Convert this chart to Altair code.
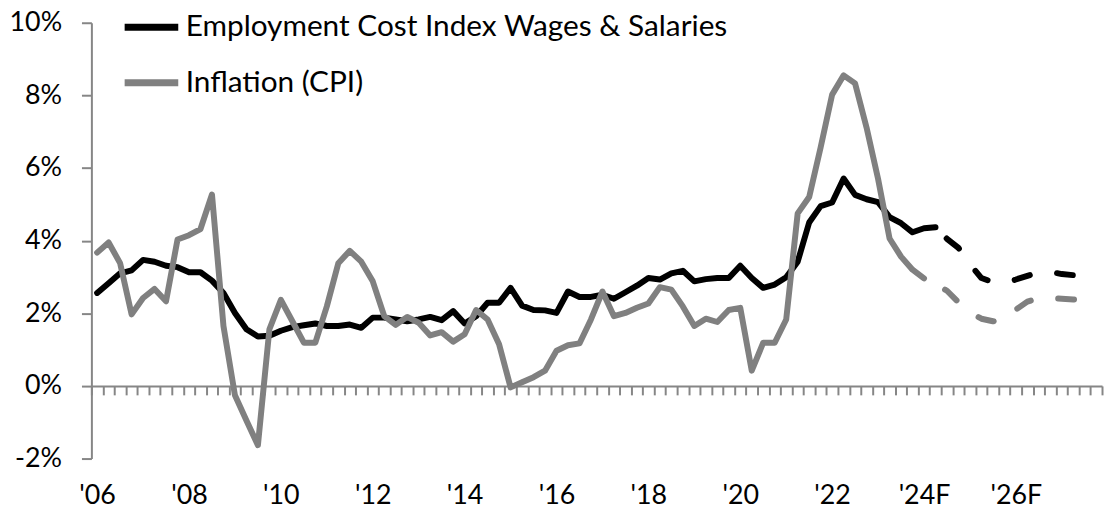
import json
import altair as alt
import pandas as pd

# ---------------- data ----------------
series_names = ["Employment Cost Index Wages & Salaries", "Inflation (CPI)"]

# quarterly, starting 2006 Q1 (position 0); actual values
eci_actual = [2.56, 2.83, 3.10, 3.18, 3.47, 3.42, 3.31, 3.27, 3.13, 3.13,
              2.90, 2.56, 2.01, 1.56, 1.36, 1.38, 1.52, 1.62, 1.67, 1.72,
              1.65, 1.65, 1.69, 1.60, 1.88, 1.88, 1.83, 1.78, 1.83, 1.90,
              1.81, 2.06, 1.72, 1.92, 2.29, 2.29, 2.70, 2.21, 2.09, 2.08,
              2.01, 2.60, 2.45, 2.45, 2.51, 2.40, 2.58, 2.76, 2.97, 2.93,
              3.10, 3.17, 2.88, 2.94, 2.97, 2.97, 3.31, 2.97, 2.70, 2.79,
              2.99, 3.42, 4.50, 4.95, 5.05, 5.71, 5.26, 5.14, 5.06, 4.65,
              4.48, 4.23, 4.34, 4.37]
cpi_actual = [3.67, 3.95, 3.38, 1.97, 2.42, 2.67, 2.33, 4.03, 4.15, 4.32,
              5.27, 1.65, -0.26, -0.95, -1.63, 1.56, 2.37, 1.78, 1.19, 1.19,
              2.19, 3.38, 3.72, 3.42, 2.88, 1.92, 1.68, 1.90, 1.74, 1.39,
              1.48, 1.22, 1.42, 2.09, 1.83, 1.15, -0.04, 0.10, 0.24, 0.42,
              0.97, 1.12, 1.17, 1.83, 2.60, 1.92, 2.01, 2.15, 2.27, 2.72,
              2.65, 2.19, 1.65, 1.85, 1.76, 2.09, 2.15, 0.42, 1.19, 1.19,
              1.83, 4.75, 5.20, 6.57, 8.02, 8.55, 8.33, 7.11, 5.70, 4.06,
              3.56, 3.20, 2.96]

# forecasts (dashed); ECI forecast starts at position 73, CPI at 72
eci_forecast_start = 73
eci_forecast = [4.37, 4.05, 3.80, 3.35, 2.97, 2.86, 2.84, 2.93, 3.03, 3.13,
                3.14, 3.08, 3.05, 3.03, 3.03]
cpi_forecast_start = 72
cpi_forecast = [2.96, 2.80, 2.62, 2.30, 2.02, 1.85, 1.78, 1.82, 2.10, 2.32,
                2.42, 2.42, 2.40, 2.38, 2.36, 2.35]

n_quarters = 88
year_labels = ["'06", "'08", "'10", "'12", "'14", "'16", "'18", "'20", "'22", "'24F", "'26F"]
year_label_pos = [0, 8, 16, 24, 32, 40, 48, 56, 64, 72, 80]
y_ticks = [-2, 0, 2, 4, 6, 8, 10]

# ---------------- tables ----------------
actual = pd.DataFrame(
    [{"q": i, "v": v, "s": series_names[0]} for i, v in enumerate(eci_actual)]
    + [{"q": i, "v": v, "s": series_names[1]} for i, v in enumerate(cpi_actual)]
)
eci_fc = pd.DataFrame([{"q": eci_forecast_start + i, "v": v} for i, v in enumerate(eci_forecast)])
cpi_fc = pd.DataFrame([{"q": cpi_forecast_start + i, "v": v} for i, v in enumerate(cpi_forecast)])

W, H = 1018, 439
FONT = "Lato"
AXIS_GRAY = "#868686"
BLACK = "#000000"
GRAY = "#808080"
FS = 27

xscale = alt.Scale(domain=[-0.5, n_quarters - 0.5], nice=False, zero=False)
yscale = alt.Scale(domain=[y_ticks[0], y_ticks[-1]], nice=False, zero=False)

label_expr = json.dumps(year_labels) + "[round(datum.value / 8)]"

label_axis = alt.Axis(
    orient="bottom", values=year_label_pos, labelExpr=label_expr,
    domain=False, ticks=False, grid=False, title=None,
    labelFont=FONT, labelFontSize=FS, labelColor=BLACK, labelPadding=24,
    labelFlush=False, labelOverlap=False,
)
zero_axis = alt.Axis(
    orient="bottom", values=[k - 0.5 for k in range(n_quarters + 1)],
    labels=False, grid=False, title=None,
    domain=True, domainColor=AXIS_GRAY, domainWidth=2,
    ticks=True, tickColor=AXIS_GRAY, tickWidth=2, tickSize=9,
    offset=-(H * (0 - y_ticks[0]) / (y_ticks[-1] - y_ticks[0])),
)
y_axis = alt.Axis(
    values=y_ticks, labelExpr="datum.value + '%'", grid=False, title=None,
    domainColor=AXIS_GRAY, domainWidth=2, tickColor=AXIS_GRAY, tickWidth=2,
    tickSize=10, labelPadding=20, labelFont=FONT, labelFontSize=FS,
    labelColor=BLACK,
)

legend = alt.Legend(
    orient="none", legendX=30, legendY=-26, title=None, direction="vertical",
    symbolType="stroke", symbolSize=2916, symbolStrokeWidth=7,
    labelFont=FONT, labelFontSize=30, labelColor=BLACK, labelOffset=4,
    rowPadding=10, padding=0, labelLimit=2000,
)

lines = alt.Chart(actual).mark_line(
    strokeWidth=6, strokeJoin="round", strokeCap="round"
).encode(
    x=alt.X("q:Q", scale=xscale, axis=label_axis),
    y=alt.Y("v:Q", scale=yscale, axis=y_axis),
    color=alt.Color("s:N", scale=alt.Scale(domain=series_names, range=[BLACK, GRAY]),
                    legend=legend, sort=series_names),
    order=alt.Order("q:Q"),
)

eci_dash = alt.Chart(eci_fc).mark_line(
    strokeWidth=6, strokeJoin="round", strokeCap="round", color=BLACK,
    strokeDash=[16, 28], strokeDashOffset=28,
).encode(
    x=alt.X("q:Q", scale=xscale, axis=zero_axis),
    y=alt.Y("v:Q", scale=yscale),
)

cpi_dash = alt.Chart(cpi_fc).mark_line(
    strokeWidth=6, strokeJoin="round", strokeCap="round", color=GRAY,
    strokeDash=[16, 28], strokeDashOffset=20,
).encode(
    x=alt.X("q:Q", scale=xscale, axis=None),
    y=alt.Y("v:Q", scale=yscale),
)

chart = (
    alt.layer(eci_dash, lines, cpi_dash)
    .resolve_axis(x="independent")
    .properties(
        width=W, height=H,
        padding={"left": 84, "top": 13, "right": 2, "bottom": 54},
        autosize=alt.AutoSizeParams(type="none"),
    )
    .configure_view(stroke=None)
)

chart.save("out.html", embed_options={"renderer": "svg", "actions": False})
